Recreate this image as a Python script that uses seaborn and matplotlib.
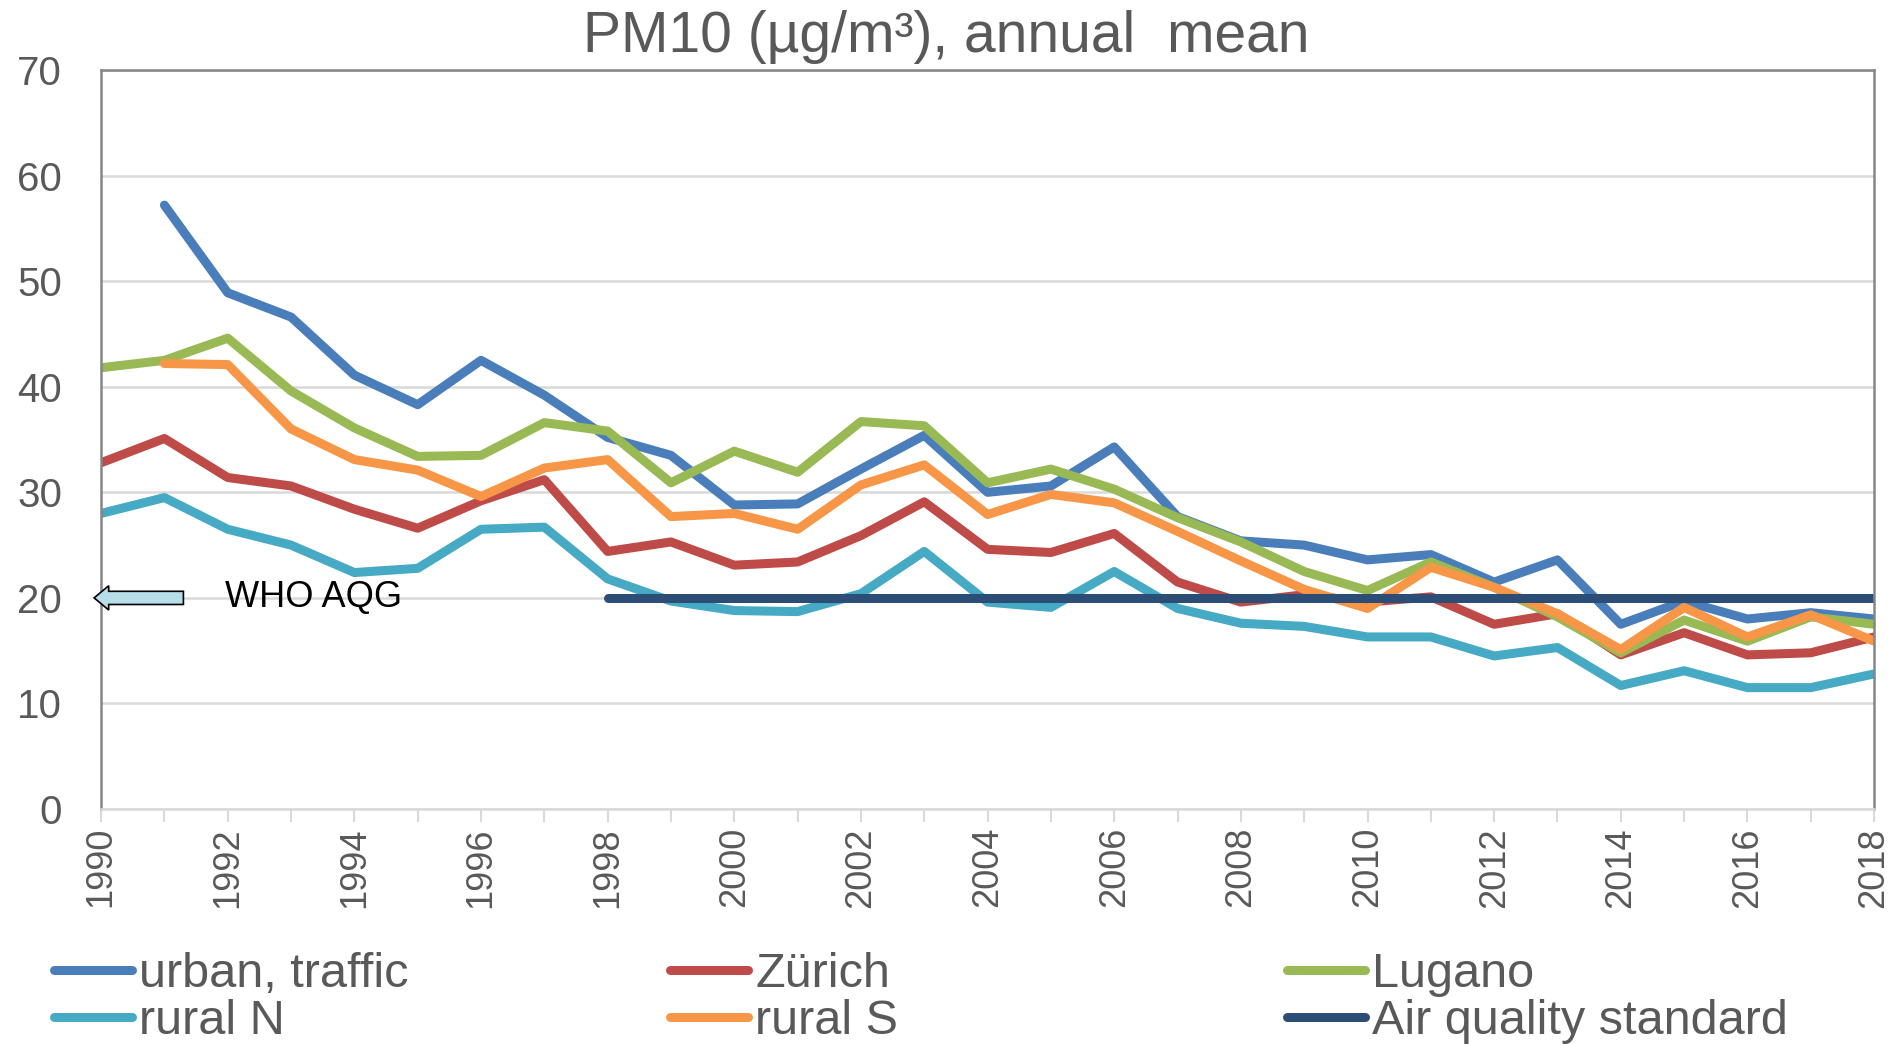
import numpy as np
import pandas as pd
import matplotlib
matplotlib.use("Agg")
import matplotlib.pyplot as plt
import seaborn as sns
from matplotlib.patches import FancyArrow

# PM10 annual means (ug/m3)
years = list(range(1990, 2019))
urban_traffic = [np.nan, 57.2, 48.9, 46.6, 41.1, 38.3, 42.5, 39.2, 35.2, 33.5,
                 28.8, 28.9, 32.2, 35.4, 30.0, 30.6, 34.3, 27.7, 25.4, 25.0,
                 23.6, 24.1, 21.5, 23.6, 17.5, 19.7, 18.0, 18.6, 18.0]
zurich = [32.8, 35.1, 31.4, 30.6, 28.4, 26.6, 29.2, 31.2, 24.4, 25.3,
          23.1, 23.4, 25.9, 29.1, 24.6, 24.3, 26.1, 21.5, 19.6, 20.3,
          19.6, 20.1, 17.5, 18.5, 14.6, 16.7, 14.6, 14.8, 16.3]
lugano = [41.8, 42.5, 44.6, 39.6, 36.1, 33.4, 33.5, 36.6, 35.8, 30.9,
          33.9, 31.9, 36.7, 36.3, 30.9, 32.2, 30.3, 27.6, 25.3, 22.5,
          20.7, 23.4, 21.0, 18.2, 14.8, 17.9, 15.9, 18.2, 17.5]
rural_n = [28.0, 29.5, 26.5, 25.0, 22.4, 22.8, 26.5, 26.7, 21.8, 19.7,
           18.8, 18.7, 20.4, 24.4, 19.6, 19.1, 22.5, 19.0, 17.6, 17.3,
           16.3, 16.3, 14.5, 15.3, 11.7, 13.1, 11.5, 11.5, 12.8]
rural_s = [np.nan, 42.2, 42.1, 36.0, 33.1, 32.1, 29.6, 32.3, 33.1, 27.7,
           28.0, 26.5, 30.7, 32.6, 27.9, 29.8, 29.0, 26.3, 23.5, 20.8,
           19.0, 22.9, 21.0, 18.5, 15.1, 19.1, 16.3, 18.4, 15.9]
aq_standard = [np.nan] * 8 + [20.0] * 21

series_names = ["urban, traffic", "Zürich", "Lugano", "rural N", "rural S", "Air quality standard"]
series_values = [urban_traffic, zurich, lugano, rural_n, rural_s, aq_standard]
series_colors = ["#4A7EBB", "#BE4B48", "#98B954", "#46AAC5", "#F79646", "#2C4D75"]

who_aqg = 20
year_labels = [str(y) if y % 2 == 0 else "" for y in years]
y_ticks = [0, 10, 20, 30, 40, 50, 60, 70]

sns.set_theme(style="white")
plt.rcParams['font.family'] = ['Liberation Sans', 'DejaVu Sans']

fig = plt.figure(figsize=(18.93, 10.45), dpi=100)
ax = fig.add_axes([0.0534, 0.2258, 0.9366, 0.7072])

handles = {}
for name, vals, col in zip(series_names, series_values, series_colors):
    df = pd.DataFrame({"year": years, "pm10": vals}).dropna()
    sns.lineplot(data=df, x="year", y="pm10", color=col, lw=6.5, ax=ax,
                 solid_capstyle="round", label=name, legend=False)
    handles[name] = ax.lines[-1]

ax.set_xlim(1990, 2018)
ax.set_ylim(0, 70)
ax.set_xticks(years)
ax.set_xticklabels(year_labels, rotation=90, fontsize=26, color="#595959")
ax.set_yticks(y_ticks)
ax.set_yticklabels([str(v) for v in y_ticks], fontsize=29, color="#595959")
ax.tick_params(axis="x", bottom=True, length=9, width=1.5, color="#D9D9D9", pad=4)
ax.tick_params(axis="y", left=False, length=0, pad=28)
ax.set_xlabel("")
ax.set_ylabel("")
ax.yaxis.grid(True, color="#D9D9D9", lw=1.8)
ax.xaxis.grid(False)
ax.set_axisbelow(True)
for s in ["left", "right", "top"]:
    ax.spines[s].set_color("#868686")
    ax.spines[s].set_linewidth(1.8)
ax.spines["bottom"].set_color("#D9D9D9")
ax.spines["bottom"].set_linewidth(1.8)

# WHO AQG marker
arrow = FancyArrow(1991.3, who_aqg, -1.41, 0, width=1.25, head_width=2.3,
                   head_length=0.23, length_includes_head=True,
                   facecolor="#B7DEE8", edgecolor="black", lw=1.2, clip_on=False, zorder=5)
ax.add_patch(arrow)
ax.text(1991.95, who_aqg, "WHO AQG", fontsize=26, color="black", va="center", ha="left")

fig.suptitle("PM10 (µg/m³), annual  mean", fontsize=41, color="#595959", y=0.99, va="top")

# legend laid out in three columns, two rows
columns = [["urban, traffic", "rural N"], ["Zürich", "rural S"], ["Lugano", "Air quality standard"]]
col_x = [0.0286, 0.354, 0.680]
for names, x in zip(columns, col_x):
    leg = fig.legend([handles[n] for n in names], names, loc="lower left",
                     bbox_to_anchor=(x, 0.001), frameon=False, fontsize=35,
                     handlelength=1.6, handletextpad=0.15, labelspacing=0.05,
                     borderpad=0, borderaxespad=0)
    for t in leg.get_texts():
        t.set_color("#595959")

fig.savefig("out.png", dpi=100)
